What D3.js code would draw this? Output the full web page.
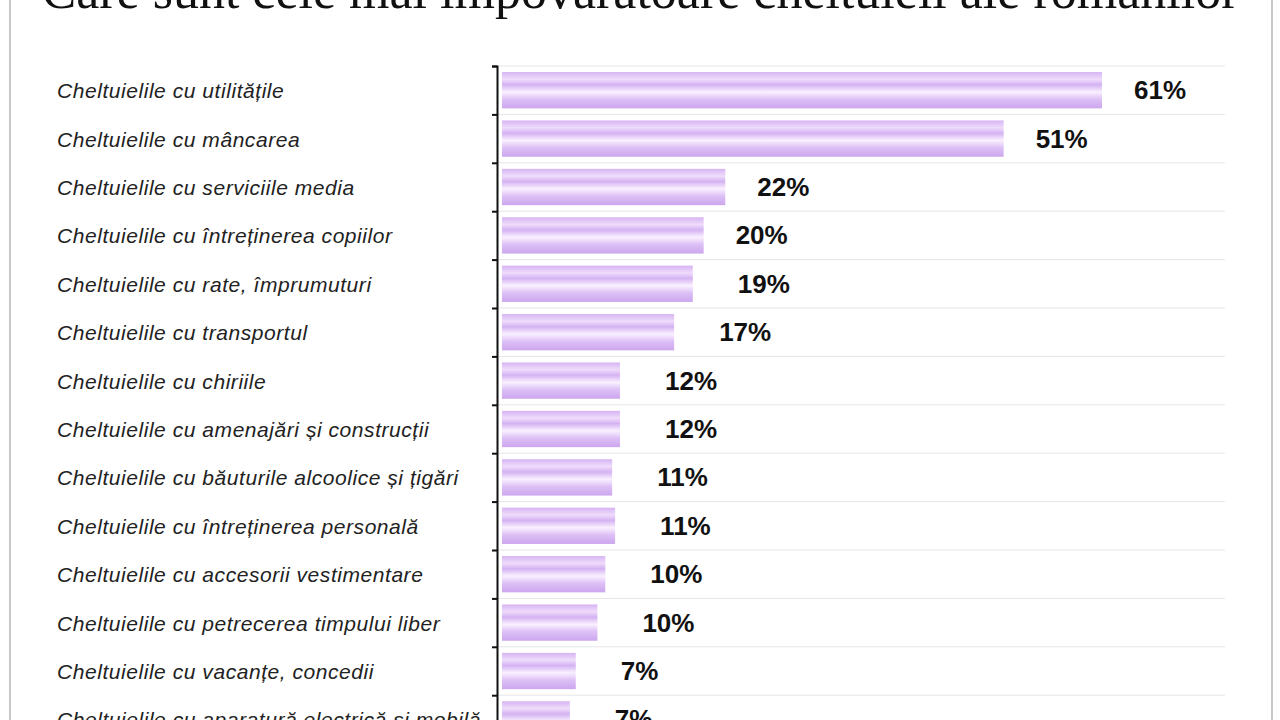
<!DOCTYPE html>
<html><head><meta charset="utf-8">
<script src="https://cdn.jsdelivr.net/npm/d3@7"></script>
<style>body{margin:0;background:#fff;overflow:hidden}</style>
</head><body><svg id="c" width="1280" height="720"></svg>
<script>
const title = "Care sunt cele mai împovărătoare cheltuieli ale românilor";
const categories = [
 "Cheltuielile cu utilitățile","Cheltuielile cu mâncarea","Cheltuielile cu serviciile media",
 "Cheltuielile cu întreținerea copiilor","Cheltuielile cu rate, împrumuturi","Cheltuielile cu transportul",
 "Cheltuielile cu chiriile","Cheltuielile cu amenajări și construcții","Cheltuielile cu băuturile alcoolice și țigări",
 "Cheltuielile cu întreținerea personală","Cheltuielile cu accesorii vestimentare","Cheltuielile cu petrecerea timpului liber",
 "Cheltuielile cu vacanțe, concedii","Cheltuielile cu aparatură electrică și mobilă"];
const values = [61,51,22,20,19,17,12,12,11,11,10,10,7,7];
const barLengths = [61,51,22.7,20.5,19.4,17.5,12,12,11.2,11.5,10.5,9.7,7.5,6.9];

const svg = d3.select("#c");
const defs = svg.append("defs");
const g = defs.append("linearGradient").attr("id","bg").attr("x1",0).attr("x2",0).attr("y1",0).attr("y2",1);
[[0,"#d6b4f3"],[0.2,"#efdcfb"],[0.35,"#d4b2f2"],[0.55,"#faf0ff"],[0.75,"#ddc0f6"],[1,"#cca6ee"]]
 .forEach(([o,c])=>g.append("stop").attr("offset",o).attr("stop-color",c));

svg.append("line").attr("x1",10).attr("x2",10).attr("y1",0).attr("y2",720).attr("stroke","#c8c8c8").attr("stroke-width",2);
svg.append("line").attr("x1",1272).attr("x2",1272).attr("y1",0).attr("y2",720).attr("stroke","#c8c8c8").attr("stroke-width",2);

svg.append("text").attr("x",640).attr("y",8).attr("text-anchor","middle")
 .attr("font-family","Liberation Serif, DejaVu Serif, serif").attr("font-size",52).attr("fill","#111").text(title);

const x = d3.scaleLinear().domain([0,61]).range([502,1102]);
const y = d3.scaleBand().domain(categories).range([66,66+14*48.4]).paddingInner(0.25).paddingOuter(0.125);

svg.selectAll(".grid").data(categories).join("line")
 .attr("x1",497).attr("x2",1225)
 .attr("y1",d=>y(d)-y.step()*y.paddingInner()/2).attr("y2",d=>y(d)-y.step()*y.paddingInner()/2)
 .attr("stroke","#e6e6e6");

svg.selectAll(".bar").data(categories).join("rect")
 .attr("x",x(0)).attr("y",d=>y(d)).attr("height",y.bandwidth())
 .attr("width",(d,i)=>x(barLengths[i])-x(0)).attr("fill","url(#bg)");

const ax = svg.append("g").attr("transform","translate(497,0)")
 .call(d3.axisLeft(d3.scaleLinear().domain([0,14]).range([66,66+14*48.4])).ticks(14).tickSize(5).tickFormat(""));
ax.select(".domain").attr("stroke","#111").attr("stroke-width",2);
ax.selectAll(".tick line").attr("stroke","#111").attr("stroke-width",2);

svg.selectAll(".lab").data(categories).join("text")
 .attr("x",57).attr("y",d=>y(d)+y.bandwidth()/2+8)
 .attr("font-family","Liberation Sans, Arial, sans-serif").attr("font-style","italic").attr("font-size",21)
 .attr("letter-spacing",0.55).attr("fill","#222").text(d=>d);

svg.selectAll(".val").data(categories).join("text")
 .attr("x",(d,i)=>x(barLengths[i])+32+(values[i]<20?13:0))
 .attr("y",d=>y(d)+y.bandwidth()/2+9)
 .attr("font-family","Liberation Sans, Arial, sans-serif").attr("font-size",26).attr("font-weight",600)
 .attr("fill","#111").text((d,i)=>values[i]+"%");
</script></body></html>
